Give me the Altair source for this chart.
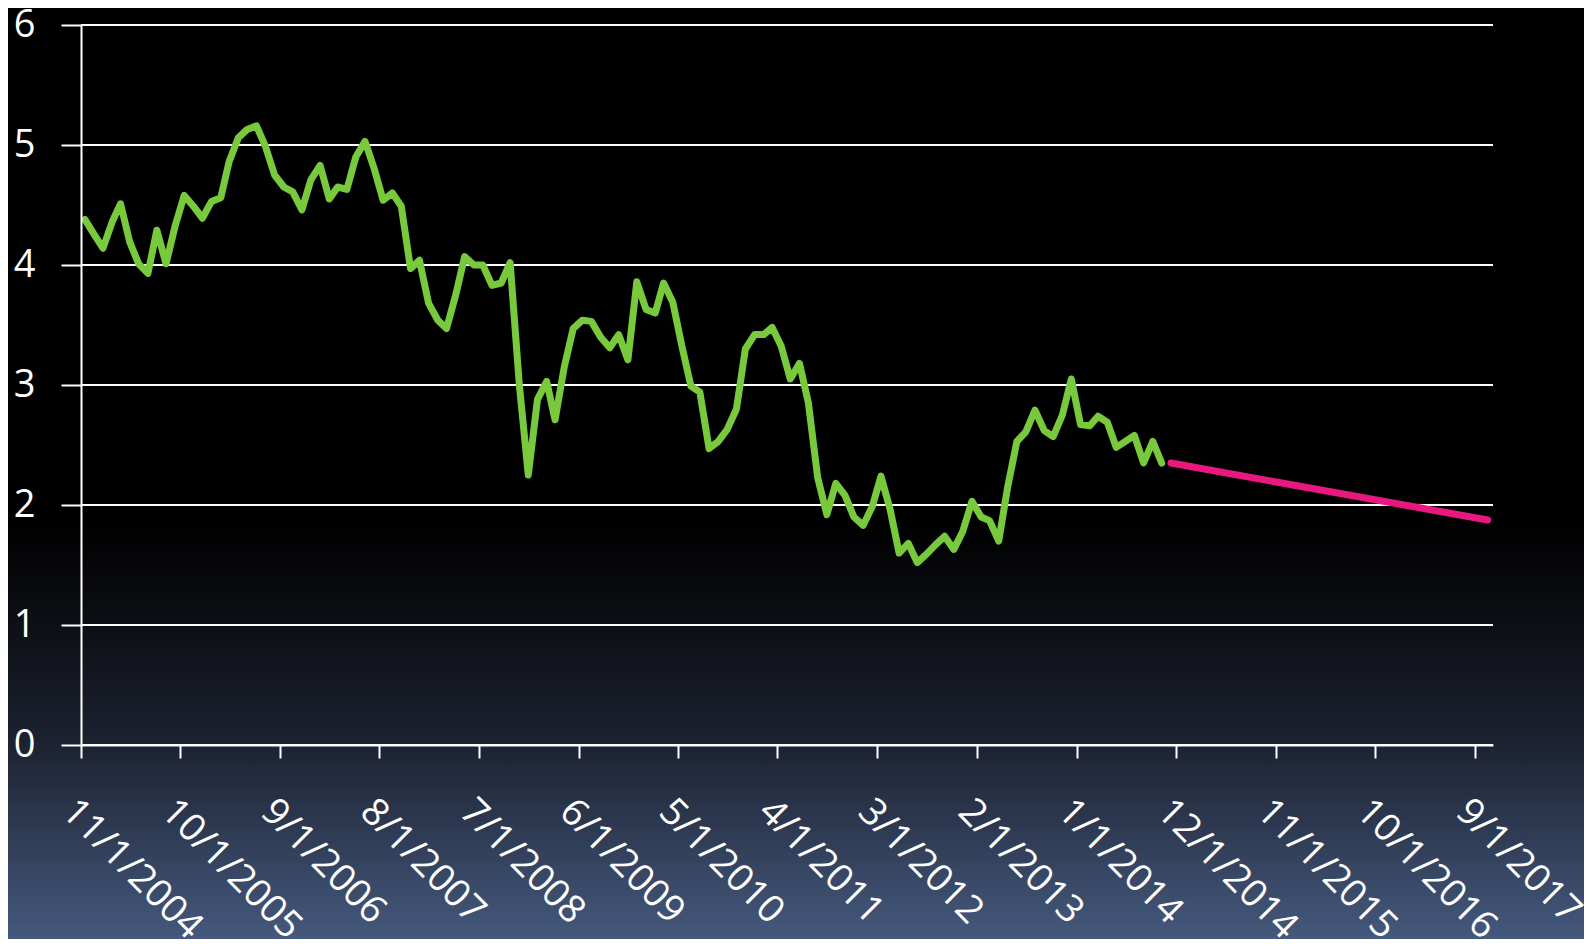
import altair as alt
import pandas as pd

# ---- data ----
green_start = "2004-11-01"   # monthly series, 11/2004 .. 10/2014
green_values = [
    4.38, 4.26, 4.14, 4.36, 4.51, 4.19, 4.01, 3.93, 4.29, 4.01,
    4.33, 4.58, 4.49, 4.39, 4.53, 4.56, 4.86, 5.06, 5.13, 5.16,
    4.99, 4.75, 4.65, 4.61, 4.46, 4.71, 4.83, 4.55, 4.65, 4.63,
    4.90, 5.03, 4.81, 4.54, 4.60, 4.49, 3.97, 4.04, 3.68, 3.54,
    3.47, 3.75, 4.07, 4.00, 4.00, 3.83, 3.85, 4.02, 3.00, 2.25,
    2.88, 3.03, 2.71, 3.15, 3.47, 3.54, 3.53, 3.40, 3.31, 3.42,
    3.21, 3.86, 3.63, 3.60, 3.85, 3.69, 3.33, 2.99, 2.94, 2.47,
    2.53, 2.63, 2.80, 3.30, 3.42, 3.42, 3.48, 3.32, 3.05, 3.18,
    2.85, 2.23, 1.92, 2.18, 2.08, 1.90, 1.83, 1.99, 2.24, 1.96,
    1.60, 1.68, 1.52, 1.59, 1.67, 1.74, 1.63, 1.78, 2.03, 1.90,
    1.87, 1.70, 2.15, 2.53, 2.61, 2.79, 2.62, 2.57, 2.75, 3.05,
    2.67, 2.66, 2.74, 2.69, 2.48, 2.53, 2.58, 2.35, 2.53, 2.35,
]
pink_dates = ["2014-11-14", "2017-10-14"]
pink_values = [2.35, 1.875]

tick_dates = [
    (2004, 11), (2005, 10), (2006, 9), (2007, 8), (2008, 7), (2009, 6),
    (2010, 5), (2011, 4), (2012, 3), (2013, 2), (2014, 1), (2014, 12),
    (2015, 11), (2016, 10), (2017, 9),
]
y_ticks = [0, 1, 2, 3, 4, 5, 6]
x_domain = [(2004, 11, 1), (2017, 11, 1)]

series_names = ["actual", "projection"]
series_colors = ["#79c93c", "#e8187f"]

# ---- build tables ----
gdates = pd.date_range(green_start, periods=len(green_values), freq="MS") + pd.Timedelta(days=13)
df = pd.concat([
    pd.DataFrame({"date": gdates, "value": green_values, "series": series_names[0]}),
    pd.DataFrame({"date": pd.to_datetime(pink_dates), "value": pink_values, "series": series_names[1]}),
], ignore_index=True)
grid_df = pd.DataFrame({"value": y_ticks})

W, H = 1412, 720
PL, PT, PR, PB = 73, 17, 91, 194

FONT = "Open Sans"
YSCALE = alt.Scale(domain=[0, 6], nice=False, zero=True)

bg = alt.Chart(pd.DataFrame({"a": [0]})).mark_rect(
    fill=alt.Gradient(
        gradient="linear", x1=0, x2=0, y1=0, y2=1,
        stops=[
            alt.GradientStop(offset=0.0, color="#000000"),
            alt.GradientStop(offset=0.55, color="#000000"),
            alt.GradientStop(offset=0.663, color="#0d0f15"),
            alt.GradientStop(offset=0.79, color="#1c2231"),
            alt.GradientStop(offset=1.0, color="#45597d"),
        ],
    )
).encode(
    x=alt.value(-PL), x2=alt.value(W + PR),
    y=alt.value(-PT), y2=alt.value(H + PB),
)

grid = alt.Chart(grid_df).mark_rule(color="white", strokeWidth=2).encode(
    y=alt.Y("value:Q", scale=YSCALE),
    x=alt.value(0), x2=alt.value(W),
)

tick_vals = [alt.DateTime(year=y, month=m, date=1) for (y, m) in tick_dates]

lines = alt.Chart(df).mark_line(strokeWidth=7, strokeCap="round", strokeJoin="round").encode(
    x=alt.X(
        "date:T",
        scale=alt.Scale(domain=[alt.DateTime(year=y, month=m, date=d) for (y, m, d) in x_domain]),
        axis=alt.Axis(
            values=tick_vals, format="%-m/%-d/%Y", labelAngle=45, labelAlign="left",
            labelBaseline="top", labelFontSize=38, labelFont=FONT, labelColor="white",
            labelPadding=34, labelOverlap=False, labelFlush=False, labelBound=False,
            tickColor="white", tickSize=13, tickWidth=2,
            domainColor="white", domainWidth=2, grid=False, title=None, zindex=1,
        ),
    ),
    y=alt.Y(
        "value:Q",
        scale=YSCALE,
        axis=alt.Axis(
            values=y_ticks, format="d", labelFontSize=38, labelFont=FONT, labelColor="white",
            labelPadding=26, tickColor="white", tickSize=20, tickWidth=2,
            domainColor="white", domainWidth=2, grid=False, title=None, zindex=1,
        ),
    ),
    color=alt.Color("series:N", scale=alt.Scale(domain=series_names, range=series_colors), legend=None),
    detail="series:N",
)

chart = alt.layer(bg, grid, lines).properties(
    width=W, height=H,
    autosize=alt.AutoSizeParams(type="none"),
    padding={"left": PL, "top": PT, "right": PR, "bottom": PB},
    background="#000000",
).configure_view(stroke=None)

chart.save("out.html", embed_options={"renderer": "svg", "actions": False})
